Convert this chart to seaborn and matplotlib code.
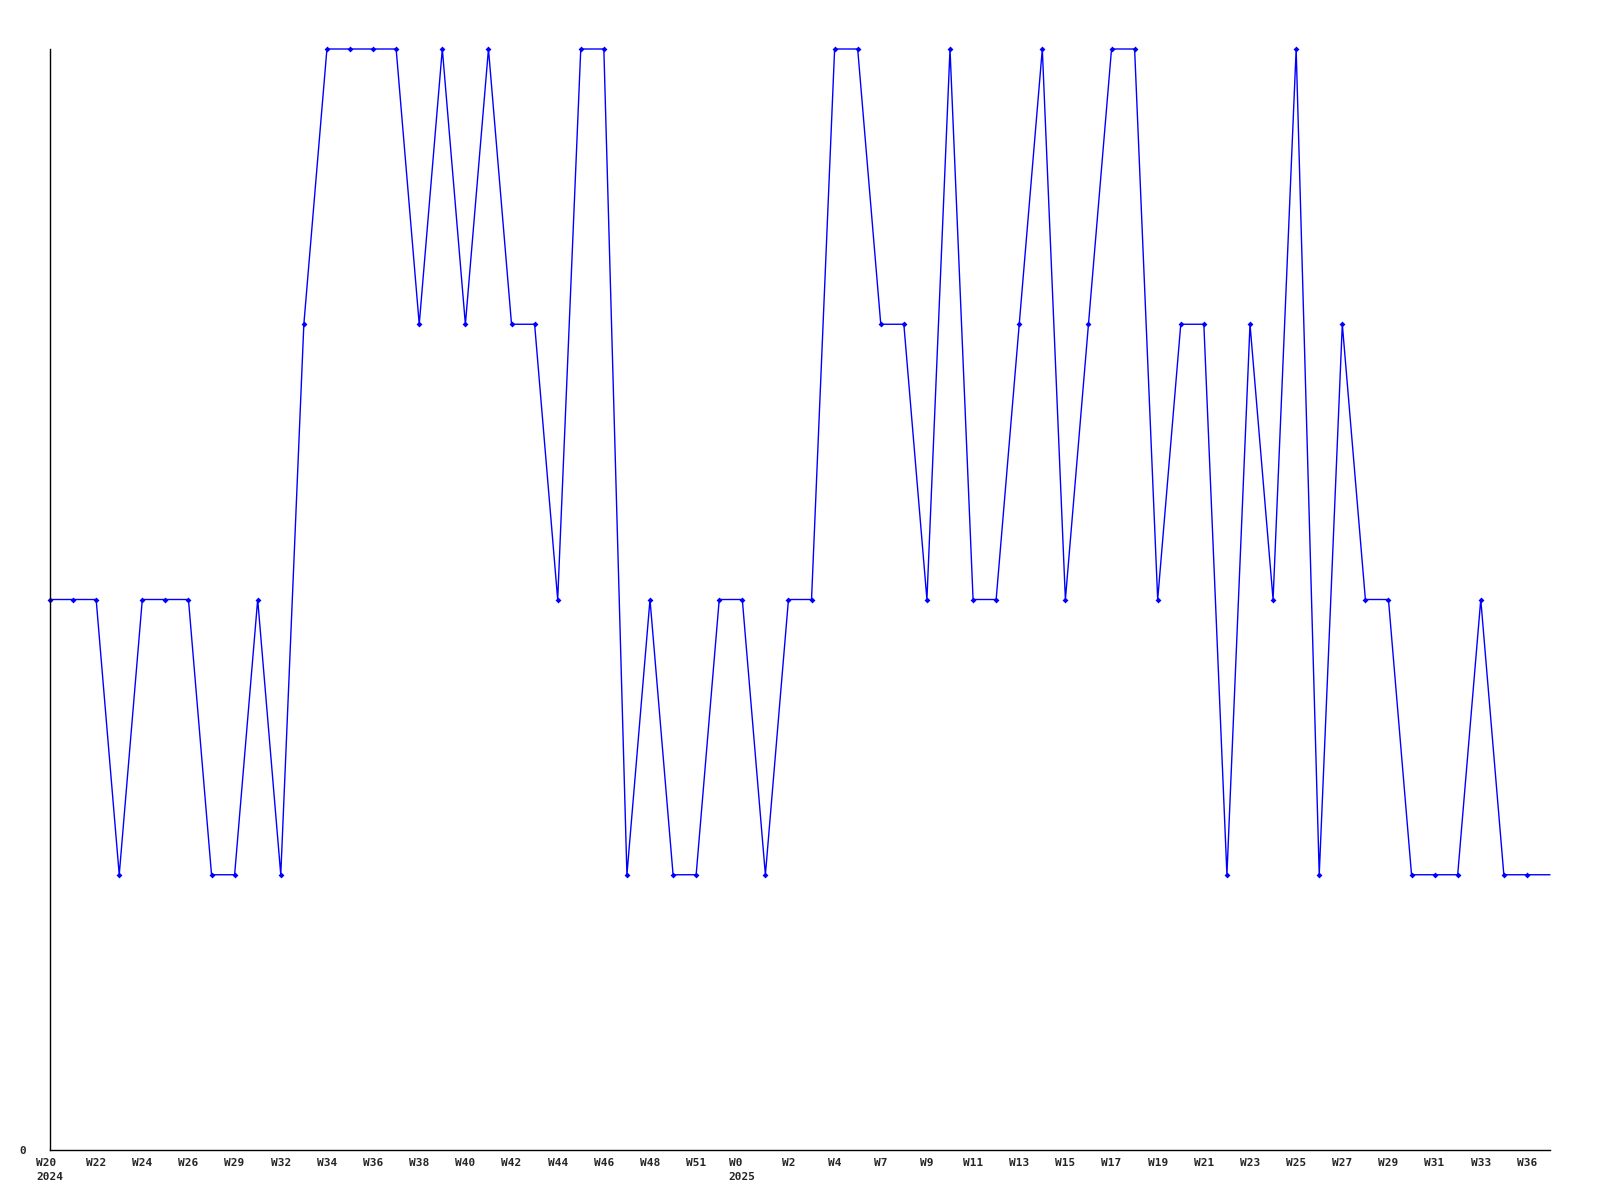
import matplotlib
matplotlib.use("Agg")
import matplotlib.pyplot as plt
import numpy as np
import pandas as pd
import seaborn as sns

# weekly values (last value continues to the right edge without a marker)
values = [2, 2, 2, 1, 2, 2, 2, 1, 1, 2,
          1, 3, 4, 4, 4, 4, 3, 4, 3, 4,
          3, 3, 2, 4, 4, 1, 2, 1, 1, 2,
          2, 1, 2, 2, 4, 4, 3, 3, 2, 4,
          2, 2, 3, 4, 2, 3, 4, 4, 2, 3,
          3, 1, 3, 2, 4, 1, 3, 2, 2, 1,
          1, 1, 2, 1, 1, 1]

# tick labels shown on every second point
week_labels = ["W20", "W22", "W24", "W26", "W29", "W32", "W34", "W36", "W38",
               "W40", "W42", "W44", "W46", "W48", "W51", "W0", "W2", "W4",
               "W7", "W9", "W11", "W13", "W15", "W17", "W19", "W21", "W23",
               "W25", "W27", "W29", "W31", "W33", "W36"]
year_labels = {0: "2024", 30: "2025"}

df = pd.DataFrame({"idx": np.arange(len(values)), "value": values})

sns.set_style("white")
fig = plt.figure(figsize=(16, 12), dpi=100)
ax = fig.add_axes([50 / 1600, 50 / 1200, 1500 / 1600, 1101 / 1200])

sns.lineplot(data=df, x="idx", y="value", ax=ax, color="#0000ff", linewidth=1.0,
             marker="D", markersize=3, markeredgewidth=0, clip_on=False,
             markevery=list(range(len(values) - 1)))

ax.set_xlim(0, len(values) - 1)
ax.set_ylim(0, 4)

tick_pos = list(range(0, 2 * len(week_labels), 2))
tick_text = []
for i, lab in zip(tick_pos, week_labels):
    if i in year_labels:
        lab = lab.ljust(4) + "\n" + year_labels[i]
    tick_text.append(lab)
ax.set_xticks(tick_pos)
ax.set_xticklabels(tick_text, fontfamily="DejaVu Sans Mono", fontweight="bold",
                   fontsize=8, linespacing=1.5)
ax.set_yticks([0])
ax.set_yticklabels(["0"], fontfamily="DejaVu Sans Mono", fontweight="bold", fontsize=8)
ax.tick_params(axis="both", length=0)
ax.tick_params(axis="x", pad=6)
ax.tick_params(axis="y", pad=17)
for lab in ax.get_xticklabels():
    lab.set_verticalalignment("top")

ax.set_xlabel("")
ax.set_ylabel("")
ax.spines["top"].set_visible(False)
ax.spines["right"].set_visible(False)
ax.spines["left"].set_color("black")
ax.spines["bottom"].set_color("black")
ax.spines["left"].set_linewidth(1)
ax.spines["bottom"].set_linewidth(1)

fig.savefig("out.png", dpi=100)
